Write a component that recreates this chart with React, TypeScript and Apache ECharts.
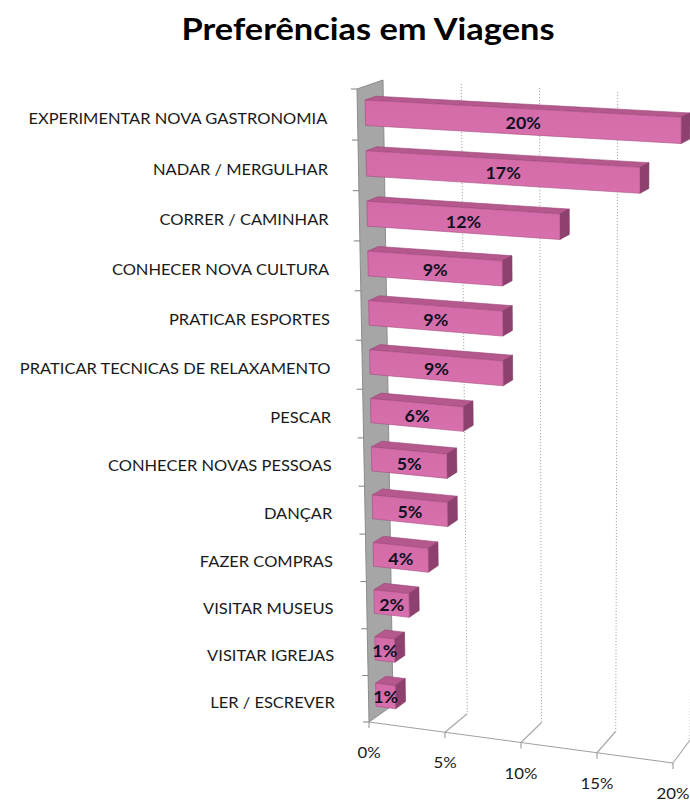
import React, { useEffect, useRef } from "react";
import * as echarts from "echarts";

const title = "Preferências em Viagens";
const categories = [
  "EXPERIMENTAR NOVA GASTRONOMIA",
  "NADAR / MERGULHAR",
  "CORRER / CAMINHAR",
  "CONHECER NOVA CULTURA",
  "PRATICAR ESPORTES",
  "PRATICAR TECNICAS DE RELAXAMENTO",
  "PESCAR",
  "CONHECER NOVAS PESSOAS",
  "DANÇAR",
  "FAZER COMPRAS",
  "VISITAR MUSEUS",
  "VISITAR IGREJAS",
  "LER / ESCREVER",
];
const values = [20, 17.4, 12.3, 8.6, 8.6, 8.6, 6.0, 4.9, 4.9, 3.6, 2.3, 1.3, 1.3];
const valueTicks = [0, 5, 10, 15, 20];

// perspective frame of the 3D plot box (screen px)
const F00 = [357, 89], F10 = [675, 106], F01 = [369, 722], F11 = [673, 763];
const B00 = [383, 80], B10 = [696, 96], B01 = [393, 705], B11 = [690, 740];
const D_FRONT = 0.3, D_BACK = 0.72;
const BAR_T = 0.27, BAR_B = 0.77;

function bil(a: number[], b: number[], c: number[], d: number[], u: number, w: number) {
  return [
    (1 - u) * (1 - w) * a[0] + u * (1 - w) * b[0] + (1 - u) * w * c[0] + u * w * d[0],
    (1 - u) * (1 - w) * a[1] + u * (1 - w) * b[1] + (1 - u) * w * c[1] + u * w * d[1],
  ];
}
function warpW(w: number) {
  return w / (0.95 + 0.05 * w);
}
function proj(u: number, w: number, d: number) {
  const ww = warpW(w);
  const f = bil(F00, F10, F01, F11, u, ww);
  const b = bil(B00, B10, B01, B11, u, ww);
  return [f[0] + (b[0] - f[0]) * d, f[1] + (b[1] - f[1]) * d];
}

const FONT = "Lato, 'Open Sans', sans-serif";

export default function App() {
  const ref = useRef<HTMLDivElement>(null);
  useEffect(() => {
    if (!ref.current) return;
    const chart = echarts.init(ref.current, null, { renderer: "svg" });

    const toUW = (params: any, api: any, v: number, idx: number) => {
      const cs = params.coordSys;
      const p = api.coord([v, idx]);
      return [(p[0] - cs.x) / cs.width, (p[1] - cs.y) / cs.height];
    };

    const barItem = (params: any, api: any) => {
      const cs = params.coordSys;
      const v = api.value(0);
      const idx = api.value(1);
      const [u0, wc] = toUW(params, api, 0, idx);
      const [u1] = toUW(params, api, v, idx);
      const hw = api.size([0, 1])[1] / cs.height;
      const wt = wc - hw / 2 + BAR_T * hw;
      const wb = wc - hw / 2 + BAR_B * hw;
      const front = [proj(u0, wt, D_FRONT), proj(u1, wt, D_FRONT), proj(u1, wb, D_FRONT), proj(u0, wb, D_FRONT)];
      const top = [proj(u0, wt, D_FRONT), proj(u1, wt, D_FRONT), proj(u1, wt, D_BACK), proj(u0, wt, D_BACK)];
      const right = [proj(u1, wt, D_FRONT), proj(u1, wt, D_BACK), proj(u1, wb, D_BACK), proj(u1, wb, D_FRONT)];
      const c = proj((u0 + u1) / 2, (wt + wb) / 2, D_FRONT);
      return {
        type: "group",
        children: [
          { type: "polygon", shape: { points: top }, style: { fill: "#B4588D", stroke: "#9C4679", lineWidth: 0.6 } },
          { type: "polygon", shape: { points: right }, style: { fill: "#8E416F", stroke: "#7E3762", lineWidth: 0.6 } },
          {
            type: "polygon",
            shape: { points: front },
            style: {
              fill: new echarts.graphic.LinearGradient(0, 0, 0, 1, [
                { offset: 0, color: "#D46BA9" },
                { offset: 1, color: "#D870AE" },
              ]),
              stroke: "#A44C80",
              lineWidth: 0.6,
            },
          },
          {
            type: "text",
            x: c[0],
            y: c[1] + 1,
            scaleX: 1.05,
            style: {
              text: Math.round(v) + "%",
              fill: "#111122",
              font: "bold 17px " + FONT,
              align: "center",
              verticalAlign: "middle",
            },
          },
        ],
      };
    };

    const catItem = (params: any, api: any) => {
      const cs = params.coordSys;
      const idx = api.value(1);
      const [u0, wc] = toUW(params, api, 0, idx);
      const hw = api.size([0, 1])[1] / cs.height;
      const pc = proj(u0, wc, 0);
      const children: any[] = [
        {
          type: "text",
          x: pc[0] - 30 - 4 * wc,
          y: pc[1] + 3,
          scaleX: 1.1,
          style: {
            text: categories[idx],
            fill: "#1a1a1a",
            font: "15px " + FONT,
            align: "right",
            verticalAlign: "middle",
          },
        },
      ];
      const bounds = [wc - hw / 2];
      if (idx === categories.length - 1) bounds.push(wc + hw / 2);
      for (const wbd of bounds) {
        const p = proj(u0, wbd, 0);
        children.push({
          type: "line",
          shape: { x1: p[0] - 6, y1: p[1], x2: p[0], y2: p[1] },
          style: { stroke: "#808080", lineWidth: 1 },
        });
      }
      return { type: "group", children };
    };

    const tickItem = (params: any, api: any) => {
      const v = api.value(0);
      const [u] = toUW(params, api, v, 0);
      const children: any[] = [];
      const fb = proj(u, 1, 0);
      const bb = proj(u, 1, 1);
      const bt = proj(u, 0, 1);
      if (v === valueTicks[0]) {
        const [uEnd] = toUW(params, api, valueTicks[valueTicks.length - 1], 0);
        children.push({
          type: "polygon",
          shape: { points: [proj(u, 0, 0), proj(u, 0, 1), proj(u, 1, 1), proj(u, 1, 0)] },
          style: { fill: "#A6A6A6", stroke: "#8C8C8C", lineWidth: 1 },
        });
        const fe = proj(uEnd, 1, 0);
        children.push({
          type: "line",
          shape: { x1: fb[0], y1: fb[1], x2: fe[0], y2: fe[1] },
          style: { stroke: "#A0A0A0", lineWidth: 1.2 },
        });
      } else {
        children.push({
          type: "line",
          shape: { x1: bt[0], y1: bt[1], x2: bb[0], y2: bb[1] },
          style: { stroke: "#A8A8A8", lineWidth: 1, lineDash: [1.2, 1.8] },
        });
        children.push({
          type: "line",
          shape: { x1: fb[0], y1: fb[1], x2: bb[0], y2: bb[1] },
          style: { stroke: "#A8A8A8", lineWidth: 1.2 },
        });
      }
      children.push({
        type: "line",
        shape: { x1: fb[0], y1: fb[1], x2: fb[0], y2: fb[1] + 6 },
        style: { stroke: "#909090", lineWidth: 1 },
      });
      children.push({
        type: "text",
        x: fb[0],
        y: fb[1] + 30,
        scaleX: 1.12,
        style: {
          text: v + "%",
          fill: "#1a1a1a",
          font: "15px " + FONT,
          align: "center",
          verticalAlign: "middle",
        },
      });
      return { type: "group", children };
    };

    chart.setOption({
      animation: false,
      graphic: [
        {
          type: "text",
          x: 368,
          y: 28,
          scaleX: 1.11,
          style: {
            text: title,
            font: "bold 31px " + FONT,
            fill: "#000",
            align: "center",
            verticalAlign: "middle",
          },
        },
      ],
      grid: { left: 0, right: 0, top: 0, bottom: 0 },
      xAxis: { type: "value", min: 0, max: 20, interval: 5, show: false },
      yAxis: { type: "category", data: categories, inverse: true, show: false },
      series: [
        {
          type: "custom",
          name: "frame",
          z: 1,
          clip: false,
          data: valueTicks.map((v) => [v, 0]),
          encode: { x: 0, y: 1 },
          renderItem: tickItem,
        },
        {
          type: "custom",
          name: "categorias",
          z: 2,
          clip: false,
          data: categories.map((_, i) => [0, i]),
          encode: { x: 0, y: 1 },
          renderItem: catItem,
        },
        {
          type: "custom",
          name: "Preferências",
          z: 3,
          clip: false,
          data: values.map((v, i) => [v, i]),
          encode: { x: 0, y: 1 },
          renderItem: barItem,
        },
      ],
    });
    return () => chart.dispose();
  }, []);
  return <div ref={ref} style={{ position: "absolute", left: 0, top: 0, width: 690, height: 801 }} />;
}
